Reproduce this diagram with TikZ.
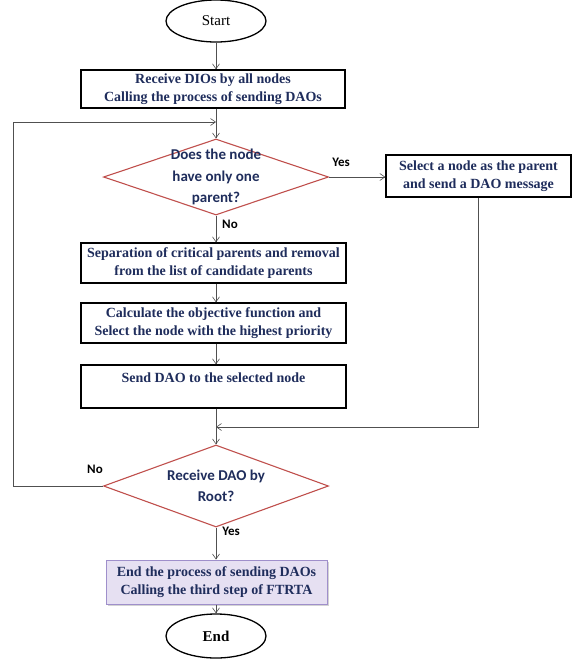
\documentclass[tikz,border=0pt]{standalone}
\usepackage{fontspec}
\setmainfont{Liberation Serif}
\newfontfamily\calfont{Carlito}
\usetikzlibrary{shapes.geometric,arrows.meta,shadows}
\definecolor{navy}{HTML}{1F2D5C}
\definecolor{decred}{HTML}{C0504D}
\definecolor{lav}{HTML}{E6E0F2}
\definecolor{lavborder}{HTML}{9F8FCB}
\definecolor{arrgray}{HTML}{505050}
\tikzset{
  proc/.style={draw=black, line width=1.3pt, fill=white, text=navy, align=center,
    font=\bfseries\fontsize{14}{18}\selectfont, inner sep=0pt},
  dec/.style={diamond, draw=decred, line width=1.1pt, fill=white, inner sep=0pt,
    minimum width=225pt},
  dtext/.style={font=\calfont\bfseries\fontsize{15}{21.5}\selectfont, text=navy, align=center},
  term/.style={ellipse, draw=black, line width=1.3pt, minimum width=100pt, inner sep=0pt,
    font=\fontsize{15}{18}\selectfont},
  lbl/.style={font=\calfont\bfseries\fontsize{13}{15}\selectfont, text=black, inner sep=0pt},
  arr/.style={draw=arrgray, line width=0.6pt, -{Straight Barb[length=5pt,width=7pt]}},
}
\begin{document}
\begin{tikzpicture}[x=1pt,y=-1pt]
\useasboundingbox (0,0) rectangle (572,659);
\node[term, minimum height=42pt] (start) at (216,21) {Start};
\node[proc, minimum width=264pt, minimum height=38pt] (b1) at (213,89)
  {Receive DIOs by all nodes\\Calling the process of sending DAOs};
\node[dec, minimum height=76pt] (d1) at (216,177) {};
\node[dtext] (d1t) at (216,177) {Does the node\\have only one\\parent?};
\node[proc, minimum width=185pt, minimum height=42pt] (bs) at (478.5,176)
  {Select a node as the parent\\and send a DAO message};
\node[proc, minimum width=265pt, minimum height=40pt] (b2) at (213.5,263)
  {Separation of critical parents and removal\\from the list of candidate parents};
\node[proc, minimum width=265pt, minimum height=40pt] (b3) at (213.5,323)
  {Calculate the objective function and\\Select the node with the highest priority};
\node[proc, minimum width=265pt, text height=10pt, text depth=18pt, inner ysep=7.5pt] (b4) at (213.5,386.5)
  {Send DAO to the selected node};
\coordinate (m) at (216,427);
\node[dec, minimum height=82pt] (d2) at (216,486) {};
\node[dtext] (d2t) at (216,486) {Receive DAO by\\Root?};
\node[proc, draw=lavborder, line width=1pt, fill=lav, minimum width=221pt, minimum height=44pt,
  drop shadow={shadow xshift=1.5pt, shadow yshift=-1.5pt, opacity=0.35}] (b5) at (216.5,582)
  {End the process of sending DAOs\\Calling the third step of FTRTA};
\node[term, minimum height=44pt, font=\bfseries\fontsize{15}{18}\selectfont] (end) at (216,636) {End};
\coordinate (lp) at (13,122);
\coordinate (lt) at (216,122);
% labels
\node[lbl] (yes1) at (341,162) {Yes};
\node[lbl, anchor=west] (no1) at (222,224) {No};
\node[lbl] (no2) at (95,469) {No};
\node[lbl] (yes2) at (231,531) {Yes};
% connectors
\draw[arr] (start.south) -- (start.south |- b1.north);
\draw[arr] (b1.south -| d1.north) -- (d1.north);
\draw[arr] (d2.west) -- (d2.west -| lp) -- (lp) -- (lt);
\draw[arr] (d1.east) -- (d1.east -| bs.west);
\draw[arr] (bs.south) -- (bs.south |- m) -- (m);
\draw[arr] (d1.south) -- (d1.south |- b2.north);
\draw[arr] (b2.south -| d1.south) -- (b3.north -| d1.south);
\draw[arr] (b3.south -| d1.south) -- (b4.north -| d1.south);
\draw[arr] (b4.south -| d2.north) -- (d2.north);
\draw[arr] (d2.south) -- (d2.south |- b5.north);
\draw[arr] (b5.south -| end.north) -- (end.north);
\end{tikzpicture}
\end{document}
